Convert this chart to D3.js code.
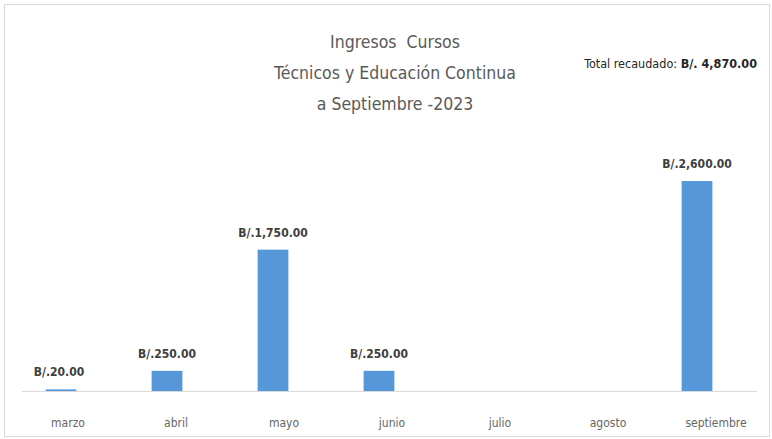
<!DOCTYPE html>
<html><head><meta charset="utf-8">
<script src="https://cdn.jsdelivr.net/npm/d3@7"></script>
<style>body{margin:0;background:#fff;}svg{display:block;}</style>
</head><body>
<svg id="c" width="772" height="439"></svg>
<script>
const months = ["marzo","abril","mayo","junio","julio","agosto","septiembre"];
const values = [20, 250, 1750, 250, 0, 0, 2600];
const valueLabels = ["B/.20.00","B/.250.00","B/.1,750.00","B/.250.00","","","B/.2,600.00"];
const titleLines = ["Ingresos\u00a0\u00a0Cursos","Técnicos y Educación Continua","a Septiembre -2023"];
const totalLabel = "Total recaudado: ";
const totalValue = "B/. 4,870.00";

const svg = d3.select("#c");
const font = "'DejaVu Sans Condensed','DejaVu Sans',sans-serif";
svg.append("rect").attr("x",4.5).attr("y",4.5).attr("width",765).attr("height",432)
  .attr("fill","#fff").attr("stroke","#d9d9d9");

const x = d3.scaleBand().domain(months).range([8, 750]).paddingInner(0.71).paddingOuter(0.355);
const xl = d3.scaleBand().domain(months).range([14, 770]);
const y = d3.scaleLinear().domain([0, 2600]).range([391, 181]);

svg.append("g").selectAll("rect").data(values).join("rect")
  .attr("x",(d,i)=>x(months[i])).attr("width",x.bandwidth())
  .attr("y",d=>y(d)).attr("height",d=>y(0)-y(d)).attr("fill","#5597d8");

svg.append("line").attr("x1",22).attr("x2",757).attr("y1",391.5).attr("y2",391.5)
  .attr("stroke","#d9d9d9").attr("stroke-width",1);

svg.append("g").selectAll("text").data(values).join("text")
  .attr("x",(d,i)=>x(months[i])+x.bandwidth()/2 - (i===0?2:0))
  .attr("y",d=>y(d)-13)
  .attr("text-anchor","middle").attr("font-family",font).attr("font-size",12)
  .attr("font-weight","bold").attr("fill","#404040")
  .text((d,i)=>valueLabels[i]);

svg.append("g").selectAll("text").data(months).join("text")
  .attr("x",d=>xl(d)+xl.bandwidth()/2).attr("y",427)
  .attr("text-anchor","middle").attr("font-family",font).attr("font-size",12)
  .attr("fill","#666666").text(d=>d);

svg.append("g").selectAll("text").data(titleLines).join("text")
  .attr("x",395).attr("y",(d,i)=>48+i*31)
  .attr("text-anchor","middle").attr("font-family",font).attr("font-size",17.5)
  .attr("fill","#595959").text(d=>d);

const t = svg.append("text").attr("x",757).attr("y",68).attr("text-anchor","end")
  .attr("font-family",font).attr("font-size",12.5).attr("fill","#262626");
t.append("tspan").text(totalLabel);
t.append("tspan").attr("font-weight","bold").text(totalValue);
</script>
</body></html>
